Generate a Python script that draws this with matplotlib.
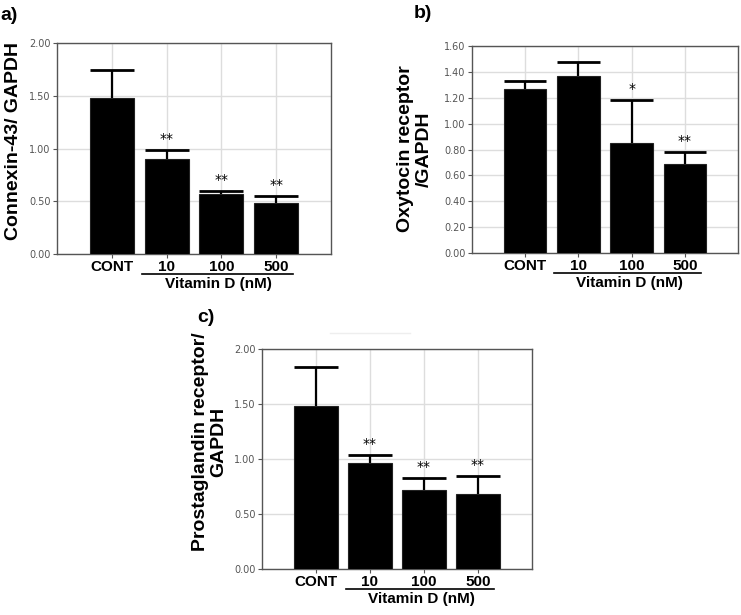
import numpy as np
import matplotlib
matplotlib.use('Agg')
import matplotlib.pyplot as plt
from matplotlib.lines import Line2D
from matplotlib.transforms import blended_transform_factory

plt.rcParams['font.family'] = ['Liberation Sans', 'DejaVu Sans']

categories = ['CONT', '10', '100', '500']
group_label = 'Vitamin D (nM)'

connexin_mean = [1.48, 0.90, 0.57, 0.48]
connexin_err = [0.26, 0.09, 0.03, 0.07]
connexin_sig = ['', '**', '**', '**']

oxytocin_mean = [1.27, 1.37, 0.85, 0.69]
oxytocin_err = [0.06, 0.11, 0.33, 0.09]
oxytocin_sig = ['', '', '*', '**']

prost_mean = [1.48, 0.96, 0.72, 0.68]
prost_err = [0.36, 0.08, 0.11, 0.17]
prost_sig = ['', '**', '**', '**']

W, H = 741, 615
fig = plt.figure(figsize=(W / 100, H / 100), dpi=100)


def px_axes(left, top, right, bottom):
    return fig.add_axes([left / W, 1 - bottom / H, (right - left) / W, (bottom - top) / H])


def panel(ax, mean, err, sig, ymax, ystep):
    x = np.arange(len(categories))
    mean = np.array(mean)
    top = mean + np.array(err)
    bw = 0.8
    ax.bar(x, mean, width=bw, color='black', edgecolor='#222222', linewidth=0.8, zorder=3)
    ax.vlines(x, mean, top, color='black', linewidth=1.6, zorder=4)
    ax.hlines(top, x - bw / 2, x + bw / 2, color='black', linewidth=2.0, zorder=4)
    for xi, t, s in zip(x, top, sig):
        if s:
            ax.annotate(s, (xi, t), xytext=(0, 5), textcoords='offset points',
                        ha='center', va='baseline', fontsize=10, family='DejaVu Sans')
    ax.set_xlim(-1, 4)
    ax.set_ylim(0, ymax)
    yt = np.arange(0, ymax + ystep / 2, ystep)
    ax.set_yticks(yt)
    ax.set_yticklabels(['%.2f' % v for v in yt], fontsize=7, color='#555555',
                       family='DejaVu Sans')
    ax.set_xticks(x)
    ax.set_xticklabels(categories, fontsize=11, fontweight='bold')
    ax.tick_params(axis='both', length=3, width=0.8, color='#555555', pad=1.5)
    ax.grid(True, color='#dddddd', linewidth=1.0, zorder=0)
    ax.set_axisbelow(True)
    for sp in ax.spines.values():
        sp.set_color('#555555')
        sp.set_linewidth(1.0)
    # underline for the Vitamin D groups
    ax_h = ax.get_position().height * H
    tr = blended_transform_factory(ax.transData, ax.transAxes)
    yl = -20 / ax_h
    ax.add_line(Line2D([0.55, 3.3], [yl, yl], transform=tr, color='black',
                       linewidth=1.2, clip_on=False))
    ax.text(1.95, yl - 3 / ax_h, group_label, transform=tr, ha='center', va='top',
            fontsize=11, fontweight='bold')


ax_a = px_axes(57, 43, 331, 254)
panel(ax_a, connexin_mean, connexin_err, connexin_sig, 2.0, 0.5)
ax_b = px_axes(472, 46, 738, 253)
panel(ax_b, oxytocin_mean, oxytocin_err, oxytocin_sig, 1.6, 0.2)
ax_c = px_axes(262, 349, 532, 569)
panel(ax_c, prost_mean, prost_err, prost_sig, 2.0, 0.5)

fig.text(14 / W, 1 - 141 / H, 'Connexin-43/ GAPDH', rotation=90, ha='center', va='center',
         fontsize=14, fontweight='bold')
fig.text(415 / W, 1 - 149 / H, 'Oxytocin receptor\n/GAPDH', rotation=90, ha='center',
         va='center', fontsize=14, fontweight='bold', linespacing=1.1)
fig.text(210 / W, 1 - 442 / H, 'Prostaglandin receptor/\nGAPDH', rotation=90, ha='center',
         va='center', fontsize=14, fontweight='bold', linespacing=1.1)

fig.text(9 / W, 1 - 15 / H, 'a)', ha='center', va='center', fontsize=14, fontweight='bold')
fig.text(423 / W, 1 - 13 / H, 'b)', ha='center', va='center', fontsize=14, fontweight='bold')
fig.text(206 / W, 1 - 317 / H, 'c)', ha='center', va='center', fontsize=14, fontweight='bold')

# faint scanning remnant above panel c
fig.add_artist(Line2D([330 / W, 410 / W], [1 - 333 / H, 1 - 333 / H], color='#eeeeee', linewidth=1.0))

fig.savefig('out.png', dpi=100)
